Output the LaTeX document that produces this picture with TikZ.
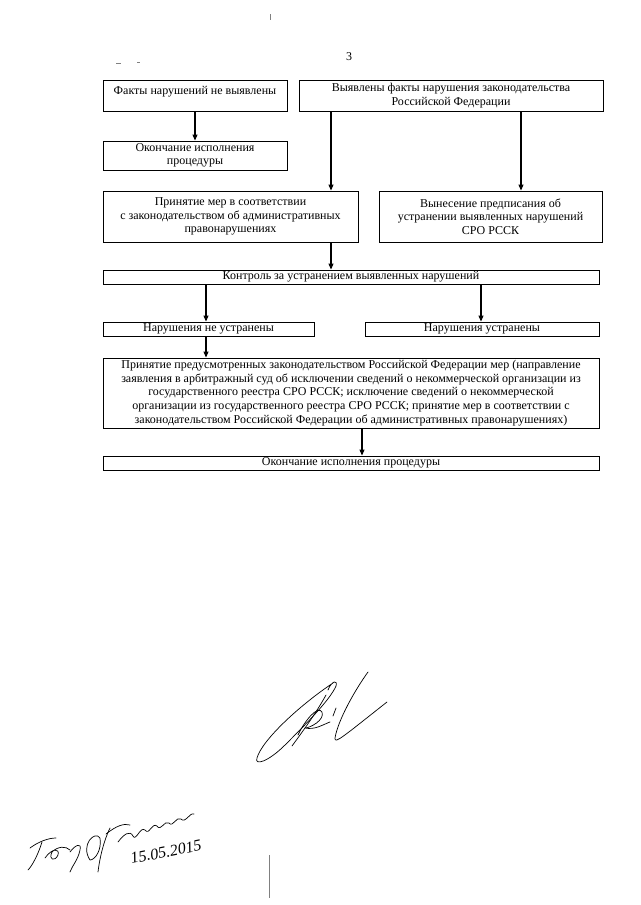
\documentclass[tikz,border=0pt]{standalone}
\usepackage{fontspec}
\setmainfont{Liberation Serif}
\usetikzlibrary{arrows.meta,calc}
\newcommand\fs{\fontsize{12}{13.6}\selectfont}
\begin{document}
\begin{tikzpicture}[x=1pt,y=-1pt,
  box/.style={draw, line width=0.9pt, inner sep=0pt, align=center, font=\fs},
  arr/.style={line width=1.1pt, -{Triangle[length=6pt,width=5pt]}},
  sig/.style={line width=0.7pt, line cap=round, line join=round},
  scanmark/.style={line width=0.5pt, gray}]
\useasboundingbox (0,0) rectangle (640,905);
\fill[white] (0,0) rectangle (640,905);

% page number
\node[font=\fs] (pg) at (349,57) {3};

% boxes
\node[box, minimum width=184pt, minimum height=31pt] (b1) at (195,95.5)
  {Факты нарушений не выявлены\\[-3pt]\mbox{}};
\node[box, minimum width=304pt, minimum height=31pt] (b2) at (451,95.5)
  {Выявлены факты нарушения законодательства\\Российской Федерации};
\node[box, minimum width=184pt, minimum height=29pt] (b3) at (195,155.5)
  {Окончание исполнения\\процедуры};
\node[box, minimum width=255pt, minimum height=51pt] (b4) at (230.5,216.5)
  {Принятие мер в соответствии\\с законодательством об административных\\правонарушениях};
\node[box, minimum width=223pt, minimum height=51pt] (b5) at (490.5,216.5)
  {Вынесение предписания об\\устранении выявленных нарушений\\СРО РССК};
\node[box, minimum width=496pt, minimum height=14pt] (ctrl) at (351,277)
  {Контроль за устранением выявленных нарушений};
\node[box, minimum width=211pt, minimum height=14pt] (nn) at (208.5,329)
  {Нарушения не устранены};
\node[box, minimum width=234pt, minimum height=14pt] (ny) at (482,329)
  {Нарушения устранены};
\node[box, minimum width=496pt, minimum height=70pt] (big) at (351,393)
  {Принятие предусмотренных законодательством Российской Федерации мер (направление\\
   заявления в арбитражный суд об исключении сведений о некоммерческой организации из\\
   государственного реестра СРО РССК; исключение сведений о некоммерческой\\
   организации из государственного реестра СРО РССК; принятие мер в соответствии с\\
   законодательством Российской Федерации об административных правонарушениях)};
\node[box, minimum width=496pt, minimum height=14pt] (fin) at (351,463)
  {Окончание исполнения процедуры};

% connector x positions
\coordinate (xa) at (331,0);
\coordinate (xb) at (521,0);
\coordinate (xc) at (206,0);
\coordinate (xd) at (481,0);
\coordinate (xe) at (362,0);

\draw[arr] (b1.south) -- (b3.north);
\draw[arr] (b2.south -| xa) -- (b4.north -| xa);
\draw[arr] (b2.south -| xb) -- (b5.north -| xb);
\draw[arr] (b4.south -| xa) -- (ctrl.north -| xa);
\draw[arr] (ctrl.south -| xc) -- (nn.north -| xc);
\draw[arr] (ctrl.south -| xd) -- (ny.north -| xd);
\draw[arr] (nn.south -| xc) -- (big.north -| xc);
\draw[arr] (big.south -| xe) -- (fin.north -| xe);

% signature 1
\draw[sig] (333,683) .. controls (300,705) and (262,740) .. (257,758)
  .. controls (254,766) and (268,762) .. (285,745)
  .. controls (305,725) and (330,700) .. (336,686)
  .. controls (338,680) and (332,680) .. (328,690);
\draw[sig] (326,695) .. controls (315,715) and (300,735) .. (292,746);
\draw[sig] (298,735) .. controls (305,720) and (318,705) .. (322,712)
  .. controls (325,720) and (310,728) .. (305,728)
  .. controls (315,730) and (322,725) .. (330,722);
\draw[sig] (368,672) .. controls (355,690) and (338,720) .. (335,738)
  .. controls (334,745) and (345,735) .. (387,702);
\draw[sig] (333,716) -- (336,708);

% signature 2
\draw[sig] (30,848) .. controls (38,842) and (48,838) .. (56,838);
\draw[sig] (42,842) .. controls (38,855) and (32,866) .. (28,870);
\draw[sig] (45,858) .. controls (52,848) and (60,848) .. (58,855)
  .. controls (55,862) and (48,860) .. (52,852)
  .. controls (58,846) and (66,846) .. (70,850);
\draw[sig] (70,852) .. controls (75,845) and (82,842) .. (80,850)
  .. controls (78,860) and (72,866) .. (70,872);
\draw[sig] (90,860) .. controls (80,845) and (95,830) .. (100,838)
  .. controls (102,850) and (95,860) .. (90,860);
\draw[sig] (98,872) .. controls (100,855) and (105,838) .. (110,828);
\draw[sig] (106,834) .. controls (116,826) and (124,823) .. (130,825);
\draw[sig] (118,842) .. controls (124,834) and (130,830) .. (133,836)
  .. controls (136,842) and (140,826) .. (145,830)
  .. controls (149,836) and (152,822) .. (157,826)
  .. controls (161,832) and (164,820) .. (169,823)
  .. controls (173,828) and (176,816) .. (181,819)
  .. controls (185,824) and (190,812) .. (194,814);
\node[font=\itshape\fontsize{16}{16}\selectfont, rotate=11] (dt) at (166,852) {15.05.2015};

% scan marks
\draw[scanmark] (116,63) -- (121,63);
\draw[scanmark] (137,62) -- (140,62);
\draw[scanmark] (270,14) -- (270,20);
\draw[scanmark] (269,855) -- (269,898);
\end{tikzpicture}
\end{document}
